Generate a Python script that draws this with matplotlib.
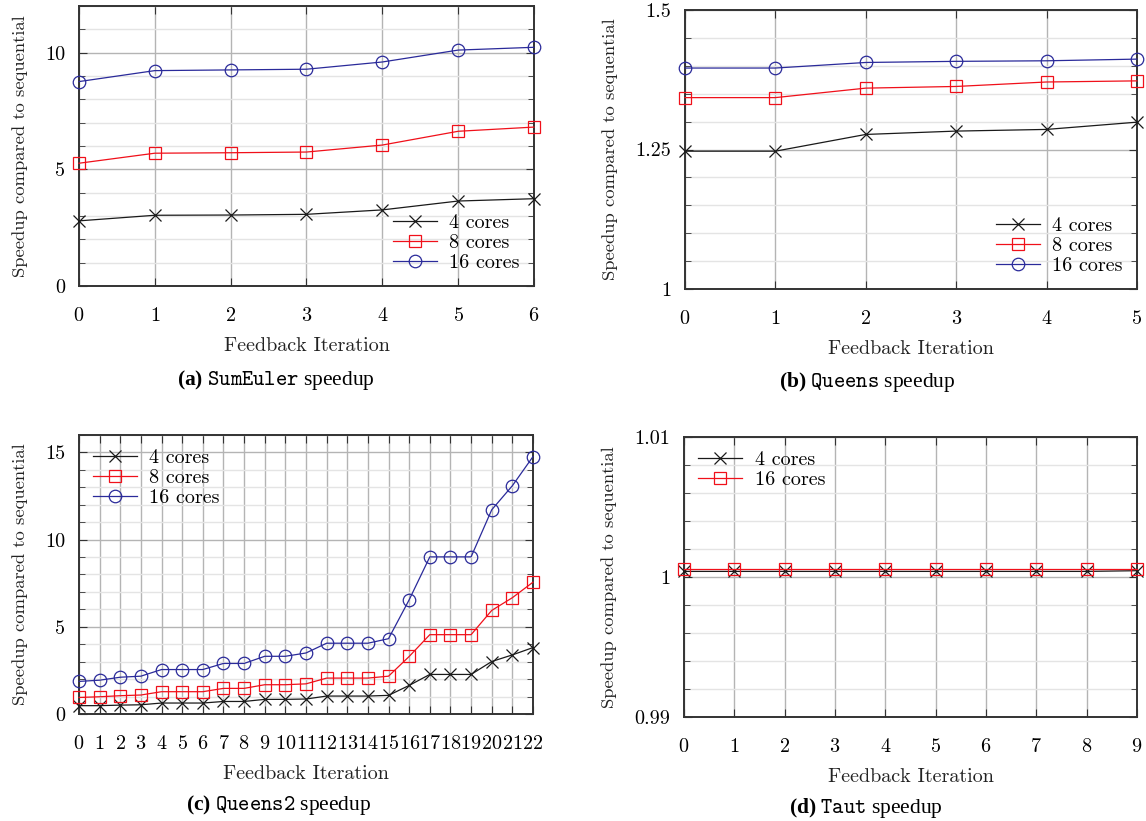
import numpy as np
import matplotlib
matplotlib.use("Agg")
import matplotlib.pyplot as plt
from matplotlib.ticker import MultipleLocator, FuncFormatter

plt.rcParams['font.family'] = ['cmr10', 'DejaVu Serif']
plt.rcParams['axes.formatter.use_mathtext'] = True
plt.rcParams['mathtext.fontset'] = 'custom'
plt.rcParams['mathtext.bf'] = 'Liberation Serif:bold'
plt.rcParams['mathtext.tt'] = 'cmtt10'
plt.rcParams['mathtext.rm'] = 'Liberation Serif'

# SumEuler
a_iter = [0, 1, 2, 3, 4, 5, 6]
a_4 = [2.79, 3.03, 3.04, 3.07, 3.26, 3.64, 3.74]
a_8 = [5.26, 5.69, 5.71, 5.74, 6.04, 6.63, 6.81]
a_16 = [8.76, 9.23, 9.26, 9.29, 9.60, 10.11, 10.23]

# Queens
b_iter = [0, 1, 2, 3, 4, 5]
b_4 = [1.247, 1.247, 1.277, 1.283, 1.286, 1.299]
b_8 = [1.343, 1.343, 1.360, 1.363, 1.371, 1.373]
b_16 = [1.396, 1.396, 1.406, 1.408, 1.409, 1.412]

# Queens2
c_iter = list(range(23))
c_4 = [0.48, 0.48, 0.51, 0.53, 0.63, 0.63, 0.63, 0.72, 0.72, 0.84, 0.84, 0.86,
       1.03, 1.03, 1.03, 1.07, 1.64, 2.27, 2.27, 2.27, 3.01, 3.39, 3.81]
c_8 = [0.95, 0.99, 1.05, 1.09, 1.28, 1.28, 1.28, 1.47, 1.47, 1.68, 1.68, 1.73,
       2.06, 2.06, 2.06, 2.17, 3.30, 4.55, 4.55, 4.55, 5.94, 6.67, 7.56]
c_16 = [1.87, 1.94, 2.11, 2.17, 2.55, 2.55, 2.55, 2.90, 2.90, 3.31, 3.31, 3.50,
        4.06, 4.06, 4.06, 4.32, 6.55, 9.01, 9.01, 9.01, 11.71, 13.09, 14.76]

# Taut
d_iter = [0, 1, 2, 3, 4, 5, 6, 7, 8, 9]
d_4 = [1.0004, 1.0004, 1.0004, 1.0004, 1.0004, 1.0004, 1.0004, 1.0004, 1.0004, 1.00045]
d_16 = [1.0006, 1.0006, 1.0006, 1.0006, 1.0006, 1.0006, 1.0006, 1.0006, 1.0006, 1.0006]

BLACK = '#1a1a1a'
RED = '#f0101a'
BLUE = '#2a2a9a'

fig = plt.figure(figsize=(11.46, 8.21), dpi=100)

ax_a = fig.add_axes([0.0689, 0.6517, 0.3971, 0.341])
ax_b = fig.add_axes([0.5977, 0.648, 0.3944, 0.3398])
ax_c = fig.add_axes([0.0689, 0.1303, 0.3962, 0.3399])
ax_d = fig.add_axes([0.5969, 0.1267, 0.3952, 0.341])


def fmt(v, pos):
    return '%g' % round(v, 4)


def setup(ax, xs, ylim, major, minor, ylab_x):
    ax.set_xlim(xs[0], xs[-1])
    ax.set_ylim(*ylim)
    ax.set_xticks(xs)
    ax.yaxis.set_major_locator(MultipleLocator(major))
    ax.yaxis.set_minor_locator(MultipleLocator(minor))
    ax.yaxis.set_major_formatter(FuncFormatter(fmt))
    ax.grid(True, which='major', color='#b4b4b4', lw=1.0)
    ax.grid(True, which='minor', axis='y', color='#e4e4e4', lw=1.0)
    ax.set_axisbelow(True)
    ax.tick_params(which='both', direction='in', top=True, right=True,
                   labelsize=14.5, color='#333333')
    ax.tick_params(axis='x', pad=15)
    ax.tick_params(axis='y', pad=10)
    ax.tick_params(which='major', length=6)
    ax.tick_params(which='minor', length=4)
    for s in ax.spines.values():
        s.set_color('#333333')
        s.set_linewidth(1.4)
    ax.set_xlabel('Feedback Iteration', fontsize=14.5, labelpad=9, color='#222222')
    ax.set_ylabel('Speedup compared to sequential', fontsize=13.4, color='#222222')
    ax.yaxis.set_label_coords(ylab_x, 0.5)


def series(ax, xs, ys, color, marker, ms, label):
    ax.plot(xs, ys, color=color, lw=0.9, marker=marker, ms=ms, mfc='none',
            mec=color, mew=0.9, label=label, clip_on=False, zorder=3)


series(ax_a, a_iter, a_4, BLACK, 'x', 8, '4 cores')
series(ax_a, a_iter, a_8, RED, 's', 8, '8 cores')
series(ax_a, a_iter, a_16, BLUE, 'o', 9, '16 cores')
setup(ax_a, a_iter, (0, 12), 5, 1, -0.112)

series(ax_b, b_iter, b_4, BLACK, 'x', 8, '4 cores')
series(ax_b, b_iter, b_8, RED, 's', 8, '8 cores')
series(ax_b, b_iter, b_16, BLUE, 'o', 9, '16 cores')
setup(ax_b, b_iter, (1, 1.5), 0.25, 0.05, -0.148)

series(ax_c, c_iter, c_4, BLACK, 'x', 8, '4 cores')
series(ax_c, c_iter, c_8, RED, 's', 8, '8 cores')
series(ax_c, c_iter, c_16, BLUE, 'o', 9, '16 cores')
setup(ax_c, c_iter, (0, 16), 5, 1, -0.112)

series(ax_d, d_iter, d_4, BLACK, 'x', 8, '4 cores')
series(ax_d, d_iter, d_16, RED, 's', 8, '16 cores')
setup(ax_d, d_iter, (0.99, 1.01), 0.01, 0.002, -0.148)

leg_kw = dict(frameon=False, fontsize=14.5, handlelength=2.2, handletextpad=0.6,
              labelspacing=0.1, borderaxespad=0.3)
ax_a.legend(loc='lower right', **leg_kw)
ax_b.legend(loc='lower right', **leg_kw)
ax_c.legend(loc='upper left', **leg_kw)
ax_d.legend(loc='upper left', **leg_kw)

cap_kw = dict(ha='center', va='center', fontsize=15.5, family='Liberation Serif')
fig.text(276 / 1146, 1 - 380 / 821, r'$\mathbf{(a)}$ $\mathtt{SumEuler}$ speedup', **cap_kw)
fig.text(867 / 1146, 1 - 382 / 821, r'$\mathbf{(b)}$ $\mathtt{Queens}$ speedup', **cap_kw)
fig.text(279 / 1146, 1 - 805 / 821, r'$\mathbf{(c)}$ $\mathtt{Queens2}$ speedup', **cap_kw)
fig.text(866 / 1146, 1 - 808 / 821, r'$\mathbf{(d)}$ $\mathtt{Taut}$ speedup', **cap_kw)

fig.savefig('out.png', dpi=100)
